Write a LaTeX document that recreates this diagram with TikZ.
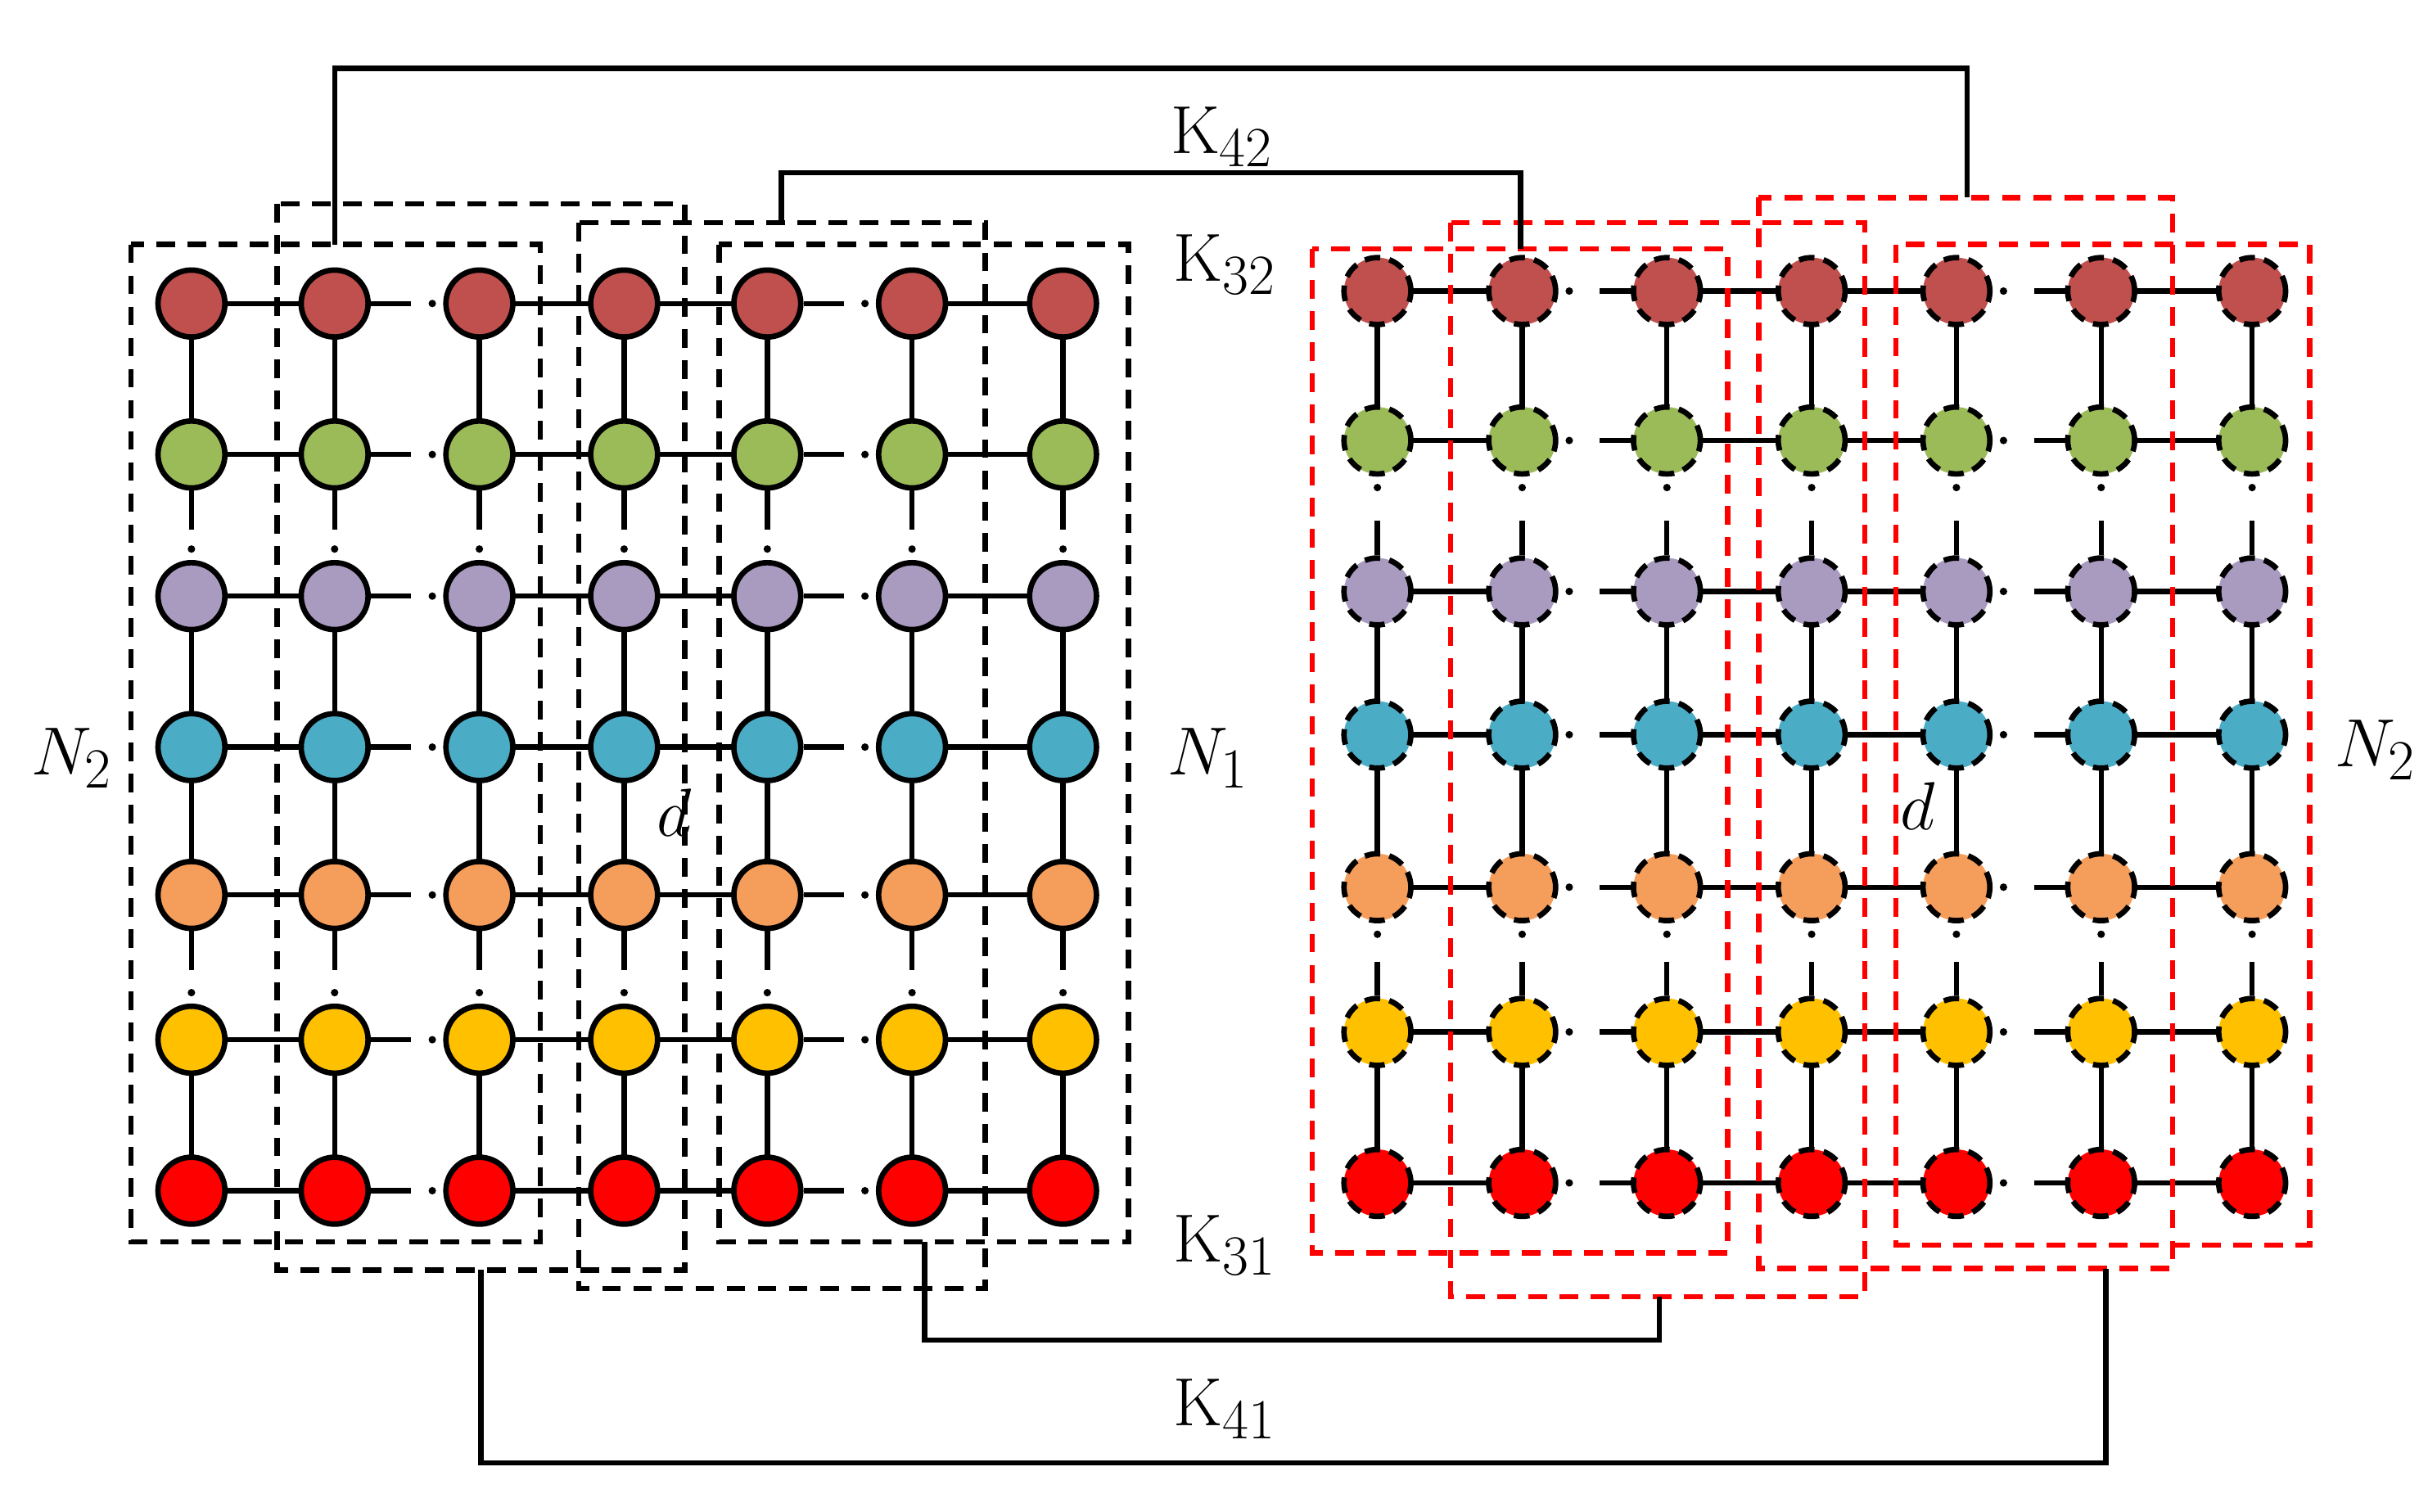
\documentclass[tikz,border=0pt]{standalone}
\usetikzlibrary{calc}
\definecolor{c1}{HTML}{C0504D}
\definecolor{c2}{HTML}{9BBB59}
\definecolor{c3}{HTML}{A99BC0}
\definecolor{c4}{HTML}{4BACC6}
\definecolor{c5}{HTML}{F59D5B}
\definecolor{c6}{HTML}{FFC000}
\definecolor{c7}{HTML}{FF0000}
\begin{document}
\begin{tikzpicture}[x=0.02cm,y=-0.02cm,
  lnode/.style={circle,draw=black,line width=2pt,minimum size=0.86cm,inner sep=0pt},
  rnode/.style={circle,draw=black,line width=2pt,dash pattern=on 0.2cm off 0.12cm,minimum size=0.86cm,inner sep=0pt},
  link/.style={line width=1.9pt},
  bbox/.style={line width=1.9pt,dash pattern=on 0.24cm off 0.16cm},
  rbox/.style={bbox,draw=red},
  lab/.style={font=\fontsize{29}{31}\selectfont,inner sep=0pt}]
\useasboundingbox (0,0) rectangle (1560,971);
\foreach \c/\x in {1/123,2/215,3/308,4/401,5/493,6/586,7/683}
  \foreach \r/\y in {1/195,2/292,3/383,4/480,5/575,6/668,7/765}
    \coordinate (PL\r\c) at (\x,\y);
\foreach \c/\x in {1/885,2/978,3/1071,4/1164,5/1257,6/1350,7/1447}
  \foreach \r/\y in {1/187,2/283,3/380,4/472,5/570,6/663,7/760}
    \coordinate (PR\r\c) at (\x,\y);
\foreach \r in {1,...,7}{
  \foreach \a/\b in {1/2,3/4,4/5,6/7}{
    \draw[link] (PL\r\a) -- (PL\r\b);
    \draw[link] (PR\r\a) -- (PR\r\b);}}
\foreach \c in {1,...,7}{
  \foreach \a/\b in {1/2,3/4,4/5,6/7}{
    \draw[link] (PL\a\c) -- (PL\b\c);
    \draw[link] (PR\a\c) -- (PR\b\c);}}
\foreach \r in {1,...,7}
  \foreach \c in {1,...,7}{
    \node[lnode,fill=c\r] (L\r\c) at (PL\r\c) {};
    \node[rnode,fill=c\r] (R\r\c) at (PR\r\c) {};}
\foreach \r in {1,...,7}
  \foreach \a/\b in {2/3,5/6}{
    \draw[link] (L\r\a.east) -- ++(26,0);
    \fill ($(L\r\b.west)+(-7,0)$) circle (2.4);
    \fill ($(R\r\a.east)+(7,0)$) circle (2.4);
    \draw[link] (R\r\b.west) -- ++(-20,0);}
\foreach \c in {1,...,7}
  \foreach \a/\b in {2/3,5/6}{
    \draw[link] (L\a\c.south) -- ++(0,25);
    \fill ($(L\b\c.north)+(0,-7)$) circle (2.4);
    \fill ($(R\a\c.south)+(0,7)$) circle (2.4);
    \draw[link] (R\b\c.north) -- ++(0,-22);}
\draw[bbox] (84,157) rectangle (347,798);
\draw[bbox] (178,131) rectangle (440,816);
\draw[bbox] (372,143) rectangle (633,828);
\draw[bbox] (462,157) rectangle (725,798);
\draw[rbox] (843,160) rectangle (1110,805);
\draw[rbox] (932,143) rectangle (1198,833);
\draw[rbox] (1130,127) rectangle (1396,815);
\draw[rbox] (1218,157) rectangle (1484,800);
\coordinate (a1) at (215,157); \coordinate (a2) at (1264,127);
\draw[link] (a1) -- (215,44) -- (1264,44) -- (a2);
\coordinate (b1) at (502,143); \coordinate (b2) at (977,160);
\draw[link] (b1) -- (502,111) -- (977,111) -- (b2);
\coordinate (e1) at (594,798); \coordinate (e2) at (1066,833);
\draw[link] (e1) -- (594,861) -- (1066,861) -- (e2);
\coordinate (f1) at (309,816); \coordinate (f2) at (1353,815);
\draw[link] (f1) -- (309,940) -- (1353,940) -- (f2);
\node[lab] (k42) at (785,88) {$\mathrm{K}_{42}$};
\node[lab] (k32) at (787,170) {$\mathrm{K}_{32}$};
\node[lab] (k31) at (787,800) {$\mathrm{K}_{31}$};
\node[lab] (k41) at (787,905) {$\mathrm{K}_{41}$};
\node[lab] (n2l) at (46,487) {$N_2$};
\node[lab] (n1) at (776,487) {$N_1$};
\node[lab] (n2r) at (1526,482) {$N_2$};
\node[lab] (d1) at (433,522) {$d$};
\node[lab] (d2) at (1232,518) {$d$};
\end{tikzpicture}
\end{document}
